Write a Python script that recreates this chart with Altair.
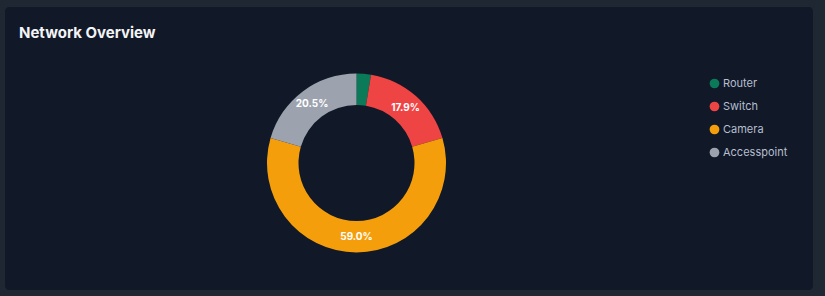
import altair as alt
import pandas as pd

title_text = "Network Overview"
categories = ["Router", "Switch", "Camera", "Accesspoint"]
values = [2.6, 17.9, 59.0, 20.5]
colors = ["#0a7a58", "#ef4444", "#f59e0b", "#9ca3af"]

df = pd.DataFrame({
    "category": categories,
    "value": values,
    "idx": list(range(len(categories))),
    "label": [f"{v:.1f}%" if v >= 5 else "" for v in values],
})

cx, cy = 351.5, 156

base = alt.Chart(df).encode(
    theta=alt.Theta("value:Q", stack=True),
    order=alt.Order("idx:Q"),
)

arcs = base.mark_arc(innerRadius=58, outerRadius=89.5, stroke=None).encode(
    color=alt.Color(
        "category:N",
        scale=alt.Scale(domain=categories, range=colors),
        sort=categories,
        legend=alt.Legend(
            title=None,
            orient="none",
            legendX=704,
            legendY=71,
            symbolType="circle",
            symbolSize=95,
            symbolStrokeWidth=0,
            labelFont="Inter",
            labelFontSize=11,
            labelColor="#b6bfd0",
            labelOffset=3,
            rowPadding=11,
        ),
    ),
    x=alt.value(cx),
    y=alt.value(cy),
)

labels = base.mark_text(
    radius=74, font="Inter", fontSize=10, fontWeight="bold", color="#ffffff"
).encode(
    text="label:N",
    x=alt.value(cx),
    y=alt.value(cy),
)

title_df = pd.DataFrame({"t": [title_text]})
title = alt.Chart(title_df).mark_text(
    align="left", baseline="alphabetic", font="Inter", fontSize=15,
    fontWeight="bold", color="#f3f4f6"
).encode(text="t:N", x=alt.value(14), y=alt.value(31))

chart = alt.layer(arcs, labels, title).properties(
    width=808,
    height=283,
    padding={"left": 5, "top": 7, "right": 12, "bottom": 6},
    autosize=alt.AutoSizeParams(type="none"),
    background="#1f2733",
).configure_view(
    fill="#111827", stroke=None, cornerRadius=4
)

chart.save("out.html", embed_options={"renderer": "svg", "actions": False})
